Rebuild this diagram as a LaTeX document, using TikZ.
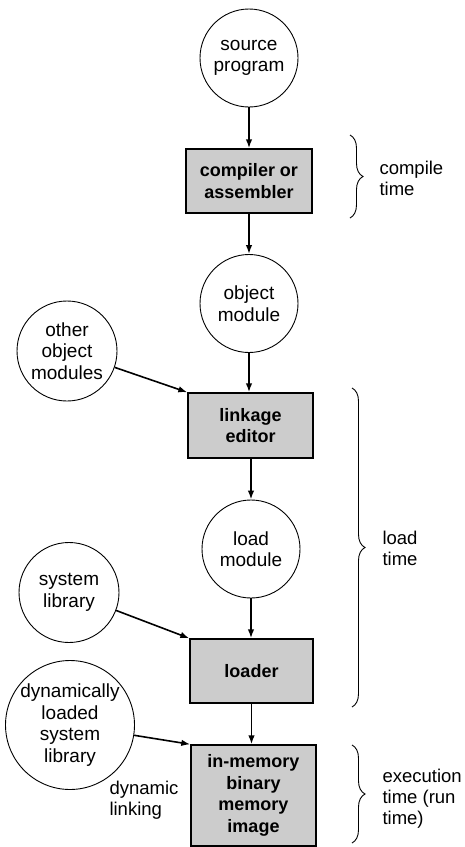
\documentclass[tikz,border=0pt]{standalone}
\usepackage{fontspec}
\setmainfont{Liberation Sans}
\usetikzlibrary{arrows.meta,decorations.pathreplacing}
\begin{document}
\begin{tikzpicture}[x=1pt,y=-1pt,
  lbl/.style={font=\fontsize{19}{21.5}\selectfont, align=center},
  circ/.style={lbl, circle, draw, line width=0.9pt, minimum size=98pt, inner sep=0pt},
  stepbox/.style={draw, line width=1.4pt, fill=black!20, align=center,
    font=\fontsize{18}{21.5}\selectfont\bfseries, inner sep=0pt},
  arr/.style={line width=1.6pt, -{Latex[length=9pt,width=6.5pt]}},
  brc/.style={decorate, decoration={brace, amplitude=13pt}, line width=0.9pt},
  side/.style={font=\fontsize{18.5}{21}\selectfont, align=left, anchor=west}
]
\useasboundingbox (0,0) rectangle (464,847);

% main column
\node[circ] (src) at (249,58) {source\\program};
\node[stepbox, minimum width=126pt, minimum height=64pt] (comp) at (249,181) {compiler or\\assembler};
\node[circ] (obj) at (249,303.5) {object\\module};
\node[stepbox, minimum width=125pt, minimum height=65pt] (link) at (250.5,425.5) {linkage\\editor};
\node[circ] (load) at (251,549) {load\\module};
\node[stepbox, minimum width=123pt, minimum height=64pt] (loader) at (251.5,671) {loader};
\node[stepbox, minimum width=125pt, minimum height=101pt] (mem) at (253.5,795.5) {in-memory\\binary\\memory\\image};

% side inputs
\node[circ, minimum size=100pt] (other) at (67,351) {other\\object\\modules};
\node[circ, minimum size=100pt] (syslib) at (69,592.5) {system\\library};
\node[circ, minimum size=112pt] (dyn) at (70,725) {dynamically\\loaded\\system\\library};
\node[side] (dynlink) at (106,800) {dynamic\\linking};

% vertical arrows
\draw[arr] (src.south) -- (src.south |- comp.north);
\draw[arr] (comp.south -| obj.north) -- (obj.north);
\draw[arr] (obj.south) -- (obj.south |- link.north);
\draw[arr] (link.south -| load.north) -- (load.north);
\draw[arr] (load.south) -- (load.south |- loader.north);
\draw[arr] (loader.south) -- (loader.south |- mem.north);

% side arrows
\draw[arr] (other) -- (link.north west);
\draw[arr] (syslib) -- (loader.north west);
\draw[arr] (dyn) -- (mem.north west);

% braces
\coordinate (c1) at (350,135);
\coordinate (c2) at (350,218);
\coordinate (l1) at (352,388);
\coordinate (l2) at (352,707);
\coordinate (e1) at (352,745);
\coordinate (e2) at (352,843);
\draw[brc] (c1) -- (c2);
\draw[brc] (l1) -- (l2);
\draw[brc] (e1) -- (e2);

\node[side] (ct) at (376,178) {compile\\time};
\node[side] (lt) at (379,548) {load\\time};
\node[side] (et) at (379,799) {execution\\time (run\\time)};
\end{tikzpicture}
\end{document}
